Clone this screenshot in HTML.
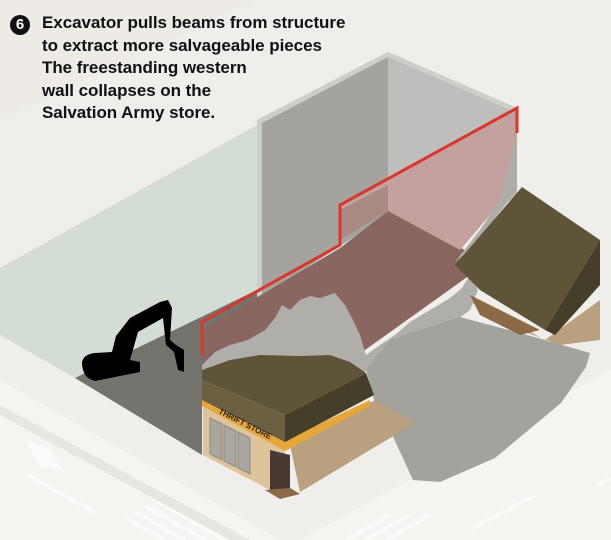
<!DOCTYPE html>
<html><head><meta charset="utf-8"><style>
html,body{margin:0;padding:0;background:#f2f0ec;}
#c{position:relative;width:611px;height:540px;overflow:hidden;}
svg{position:absolute;left:0;top:0}
.t{position:absolute;left:42px;top:12px;font-family:"Liberation Sans Narrow","Liberation Sans",sans-serif;font-weight:bold;font-size:17px;line-height:22.5px;color:#111;letter-spacing:-0.05px}
.n{position:absolute;left:10px;top:15px;width:20px;height:20px;border-radius:50%;background:#111;color:#fff;font-family:"Liberation Sans",sans-serif;font-weight:bold;font-size:15px;line-height:20px;text-align:center}
</style></head><body><div id="c">
<svg width="611" height="540" viewBox="0 0 611 540">
<rect width="611" height="540" fill="#f0eeea"/>
<polygon points="0,0 255,0 0,120" fill="#eeebe6"/>
<polygon points="0,380 280,540 0,540" fill="#f5f4f1"/>
<polygon points="300,540 611,370 611,540" fill="#f5f4f1"/>
<polygon points="0,268 257,125 257,300 75,378 0,335" fill="#d4ddd4"/>
<polygon points="75,378 257,290 257,320 202,350 202,455" fill="#74746f"/>
<polygon points="257,120 388,52 388,215 257,300" fill="#a4a39d"/>
<polygon points="388,52 517,108 517,200 388,215" fill="#bfbebc"/>
<polygon points="257,120 388,52 517,108 517,113 388,57 262,123 262,300 257,303" fill="#cfcdc8"/>
<polygon points="202,330 340,248 388,211 465,250 470,275 365,350 202,372" fill="#89665f"/>
<polygon points="340,205 517,108 517,190 490,215 460,250 388,211 340,240" fill="#c3a19e"/>
<polygon points="340,210 388,185 388,211 340,240" fill="#a98a84"/>
<polygon points="517,133 517,190 470,250 455,262 480,230 500,200 510,160" fill="#adaca7"/>
<polyline points="202,355 202,322 340,245 340,205 517,108 517,133" fill="none" stroke="#d8382b" stroke-width="3"/>
<polygon points="202,365 215,352 230,345 248,340 265,330 275,318 282,305 290,310 300,300 310,296 320,298 335,293 345,305 352,318 360,335 366,355 380,345 395,335 410,322 430,310 450,298 462,288 470,275 478,290 470,310 430,340 380,370 300,378 202,380" fill="#afaea9"/>
<polygon points="375,403 366,370 390,340 460,317 520,333 590,353 586,367 561,403 495,458 440,482 413,480 390,430" fill="#a3a29d"/>
<polygon points="470,300 500,315 545,340 600,300 600,340 560,345 520,330 490,320" fill="#b9a07e"/>
<polygon points="470,295 520,320 540,330 520,335 480,315" fill="#8c6a45"/>
<polygon points="455,265 522,187 600,240 545,330 480,290" fill="#5e5539"/>
<polygon points="545,330 600,240 600,285 555,335" fill="#453f29"/>
<polygon points="290,445 375,400 415,423 300,492" fill="#b9a07e"/>
<polygon points="203,405 285,450 285,493 270,490 203,455" fill="#dfc39a"/>
<polygon points="270,450 290,455 290,490 270,490" fill="#4a3932"/>
<polygon points="265,490 290,488 300,494 280,499" fill="#8c6a45"/>
<g fill="#a9a7a0" stroke="#8b8984" stroke-width="1"><polygon points="210,418 222,424 222,460 210,454"/><polygon points="224,425 236,431 236,467 224,461"/><polygon points="238,432 250,438 250,474 238,468"/></g>
<polygon points="202,398 285,440 370,400 370,406 285,451 202,406" fill="#e5a73b"/>
<polygon points="202,370 230,360 260,355 300,356 330,355 350,362 366,373 285,415 202,380" fill="#5e5539"/>
<polygon points="202,380 285,415 285,442 202,400" fill="#6b6041"/>
<polygon points="285,415 366,373 374,395 285,442" fill="#453f29"/>
<text x="218" y="413" font-family="Liberation Sans Narrow,Liberation Sans,sans-serif" font-weight="bold" font-size="8" fill="#222" transform="rotate(27 218 413)">THRIFT STORE</text>
<g fill="#000">
<path d="M82,362 Q84,354 95,353 L112,352 L116,336 L130,318 L160,302 L168,300 L172,308 L170,340 L176,345 L184,350 L184,372 L178,370 L174,352 L166,345 L163,318 L138,332 L130,360 L140,362 L140,372 L95,381 Q82,378 82,362Z"/>
</g>
<g stroke="#fbfaf8" stroke-width="4">
<line x1="27" y1="475" x2="95" y2="512"/>
<line x1="155" y1="500" x2="225" y2="540"/>
<line x1="145" y1="506" x2="205" y2="540"/>
<line x1="135" y1="512" x2="185" y2="540"/>
<line x1="125" y1="518" x2="165" y2="540"/>
<line x1="345" y1="540" x2="390" y2="515"/>
<line x1="365" y1="540" x2="410" y2="515"/>
<line x1="385" y1="540" x2="430" y2="515"/>
<line x1="470" y1="530" x2="535" y2="495"/>
<line x1="597" y1="485" x2="611" y2="478"/>
</g>
<polygon points="25,440 47,447 62,470 40,466" fill="#fcfbf9"/>
<polygon points="0,415 230,540 250,540 0,405" fill="#e8e6e1"/>
</svg>
<div class="n">6</div>
<div class="t">Excavator pulls beams from structure<br>to extract more salvageable pieces<br>The freestanding western<br>wall collapses on the<br>Salvation Army store.</div>
</div></body></html>
